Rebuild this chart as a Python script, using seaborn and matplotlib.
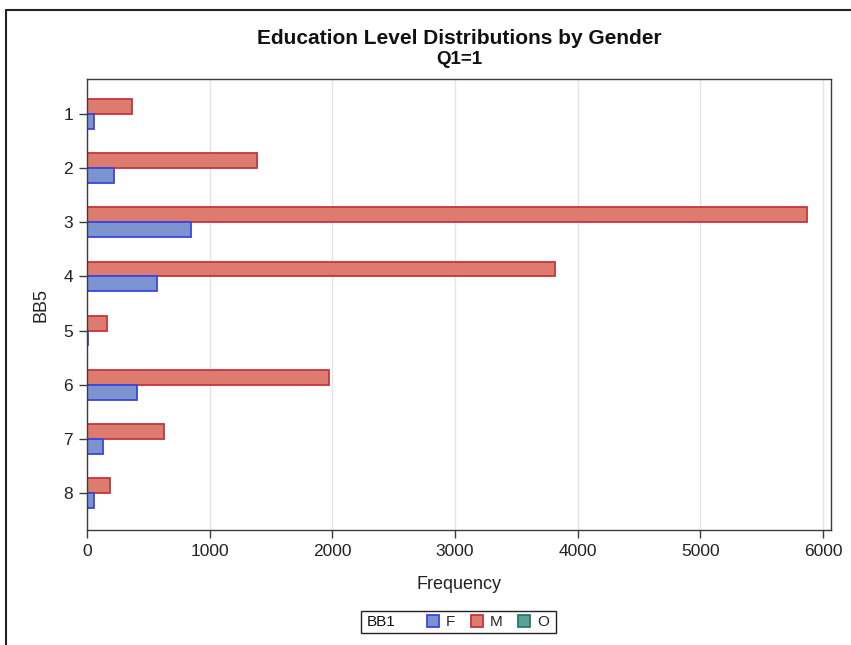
import matplotlib
matplotlib.use("Agg")
import matplotlib.pyplot as plt
from matplotlib.patches import Patch, Rectangle
from matplotlib.lines import Line2D
import seaborn as sns
import pandas as pd

# Education level (BB5) counts by gender (BB1), subset Q1=1
education_levels = ["1", "2", "3", "4", "5", "6", "7", "8"]
female_counts = [57, 220, 848, 571, 8, 408, 130, 57]
male_counts = [367, 1387, 5873, 3815, 163, 1973, 628, 188]
x_ticks = [0, 1000, 2000, 3000, 4000, 5000, 6000]

fill_colors = {"F": "#7b93cf", "M": "#dd7c6e", "O": "#5da196"}
edge_colors = {"F": "#3b45e0", "M": "#c8333d", "O": "#2a7a70"}

df = pd.DataFrame({
    "BB5": education_levels * 2,
    "BB1": ["F"] * len(education_levels) + ["M"] * len(education_levels),
    "Frequency": female_counts + male_counts,
})

sns.set_style("white")
plt.rcParams["font.family"] = ["Liberation Sans", "DejaVu Sans"]

fig = plt.figure(figsize=(8.51, 6.45), dpi=100)
ax = fig.add_axes([87 / 851, 1 - 530 / 645, (831 - 87) / 851, (530 - 79) / 645])

hue_order = ["M", "F"]
sns.barplot(
    data=df, x="Frequency", y="BB5", hue="BB1", order=education_levels,
    hue_order=hue_order, orient="h", width=0.55, palette=fill_colors,
    saturation=1, legend=False, ax=ax, linewidth=1.3, gap=0,
)
for container, key in zip(ax.containers, hue_order):
    for bar in container:
        bar.set_edgecolor(edge_colors[key])
        bar.set_linewidth(1.3)

ax.set_xlim(0, 6065)
ax.set_ylim(7.683, -0.646)
ax.set_xticks(x_ticks)
ax.set_xticklabels([str(t) for t in x_ticks])
ax.xaxis.grid(True, color="#e4e4e4", linewidth=1.0)
ax.set_axisbelow(True)
for s in ax.spines.values():
    s.set_color("#3c3c3c")
    s.set_linewidth(1.0)
ax.tick_params(axis="both", direction="out", length=6, width=1.0,
               color="#3c3c3c", labelsize=12.5, labelcolor="#222222",
               bottom=True, left=True, pad=4)
ax.set_xlabel("Frequency", fontsize=13, color="#222222", labelpad=12)
ax.set_ylabel("BB5", fontsize=13, color="#222222", labelpad=10)

fig.text(459 / 851, 1 - 38 / 645, "Education Level Distributions by Gender",
         ha="center", va="center", fontsize=15, fontweight="bold", color="#111111")
fig.text(459 / 851, 1 - 59 / 645, "Q1=1",
         ha="center", va="center", fontsize=13.5, fontweight="bold", color="#111111")

# Legend: framed box with the variable name and one swatch per gender
fig.add_artist(Rectangle((361 / 851, 1 - 633 / 645), (556 - 361) / 851, 22 / 645,
                         transform=fig.transFigure, fill=False,
                         edgecolor="#222222", linewidth=1.0))
fig.text(367 / 851, 1 - 622 / 645, "BB1", ha="left", va="center",
         fontsize=11, color="#111111")
handles = [Patch(facecolor=fill_colors[k], edgecolor=edge_colors[k], linewidth=1.3)
           for k in ["F", "M", "O"]]
fig.legend(handles, ["F", "M", "O"], ncol=3, frameon=False, fontsize=11,
           loc="center left", bbox_to_anchor=(427 / 851, 1 - 622 / 645),
           handlelength=0.8, handleheight=0.8, handletextpad=0.45,
           columnspacing=1.0, borderpad=0, borderaxespad=0)

# Outer frame around the graph area
fig.add_artist(Line2D([6 / 851, 6 / 851], [1 - 10 / 645, 0], transform=fig.transFigure,
                      color="#222222", linewidth=1.5))
fig.add_artist(Line2D([6 / 851, 1], [1 - 10 / 645, 1 - 10 / 645], transform=fig.transFigure,
                      color="#222222", linewidth=1.5))

fig.savefig("out.png", dpi=100)
